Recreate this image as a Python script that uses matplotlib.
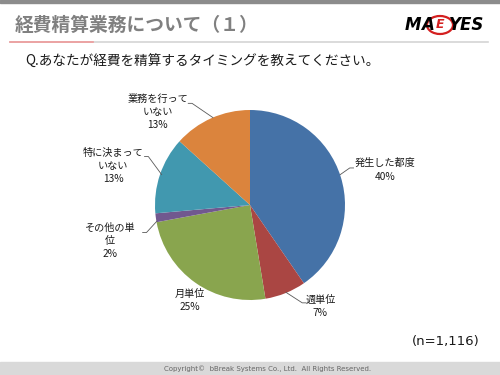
import matplotlib
matplotlib.use("Agg")
import matplotlib.pyplot as plt
from matplotlib.patches import Rectangle, Ellipse

plt.rcParams["font.family"] = ["Noto Sans CJK JP", "DejaVu Sans"]

# Data (share of respondents, %)
labels = ["発生した都度", "週単位", "月単位", "その他の単\n位", "特に決まって\nいない", "業務を行って\nいない"]
values = [40.4, 7.0, 24.7, 1.5, 13.1, 13.3]
colors = ["#4572A7", "#AA4643", "#89A54E", "#71588F", "#4198AF", "#DB843D"]

# label block centers and leader lines, in pie units (radius = 1)
label_pos = [(1.42, 0.37), (0.74, -1.07), (-0.63, -1.0), (-1.47, -0.38), (-1.44, 0.41), (-0.97, 0.98)]
leaders = [
    [(0.95, 0.32), (1.05, 0.39), (1.09, 0.39)],
    [(0.38, -0.92), (0.55, -1.03), (0.59, -1.03)],
    None,
    [(-0.98, -0.17), (-1.09, -0.29), (-1.13, -0.29)],
    [(-0.93, 0.32), (-1.07, 0.51), (-1.11, 0.51)],
    [(-0.39, 0.92), (-0.61, 1.07), (-0.65, 1.07)],
]

fig = plt.figure(figsize=(5, 3.75), dpi=100)
W, H = 500.0, 375.0

# page decorations
fig.patches.append(Rectangle((0, 1 - 3 / H), 1, 3 / H, transform=fig.transFigure, color="#8c8c8c"))
fig.patches.append(Rectangle((0, 0), 1, 13 / H, transform=fig.transFigure, color="#d9d9d9"))
fig.add_artist(plt.Line2D([10 / W, 488 / W], [1 - 42 / H] * 2, color="#d4d4d4", lw=1.2))
fig.add_artist(plt.Line2D([10 / W, 93 / W], [1 - 42 / H] * 2, color="#ef9a9a", lw=1.2))

fig.text(15 / W, 1 - 25 / H, "経費精算業務について（１）", fontsize=13.5, fontweight="bold",
         color="#808080", va="center", ha="left")
fig.text(25 / W, 1 - 62 / H, "Q.あなたが経費を精算するタイミングを教えてください。", fontsize=9.8,
         color="#1a1a1a", va="center", ha="left")
fig.text(480 / W, 1 - 342 / H, "(n=1,116)", fontsize=9.5, color="#1a1a1a", va="center", ha="right",
         family="DejaVu Sans")
fig.text(268 / W, 6.5 / H, "Copyright©  bBreak Systems Co., Ltd.  All Rights Reserved.", fontsize=5,
         color="#666666", va="center", ha="center", family="DejaVu Sans")

# logo
fig.add_artist(Ellipse((440 / W, 1 - 25 / H), 26 / W, 18 / H, transform=fig.transFigure,
                       fill=False, ec="#d42020", lw=1.6))
fig.text(405 / W, 1 - 25 / H, "M", fontsize=12, fontweight="bold", style="italic", color="black",
         va="center", ha="left", family="DejaVu Sans")
fig.text(421 / W, 1 - 25 / H, "A", fontsize=12, fontweight="bold", style="italic", color="black",
         va="center", ha="left", family="DejaVu Sans")
fig.text(436 / W, 1 - 25 / H, "E", fontsize=9, fontweight="bold", style="italic", color="#d42020",
         va="center", ha="left", family="DejaVu Sans")
fig.text(449 / W, 1 - 25 / H, "YES", fontsize=12, fontweight="bold", style="italic", color="black",
         va="center", ha="left", family="DejaVu Sans")

# pie: center (250,205) px, radius 95 px
cx, cy, r = 250, 205, 95
ax = fig.add_axes([(cx - r) / W, (H - cy - r) / H, 2 * r / W, 2 * r / H])
ax.pie(values, colors=colors, startangle=90, counterclock=False, radius=1,
       wedgeprops=dict(linewidth=0))
ax.set_xlim(-1, 1)
ax.set_ylim(-1, 1)
ax.set_aspect("equal")
ax.axis("off")

for lab, v, (x, y), ld in zip(labels, values, label_pos, leaders):
    ax.text(x, y, f"{lab}\n{round(v):.0f}%", ha="center", va="center", fontsize=7.3,
            color="#1a1a1a", linespacing=1.4, clip_on=False)
    if ld:
        xs, ys = zip(*ld)
        ax.plot(xs, ys, color="#595959", lw=0.6, clip_on=False)

fig.savefig("out.png", dpi=100)
